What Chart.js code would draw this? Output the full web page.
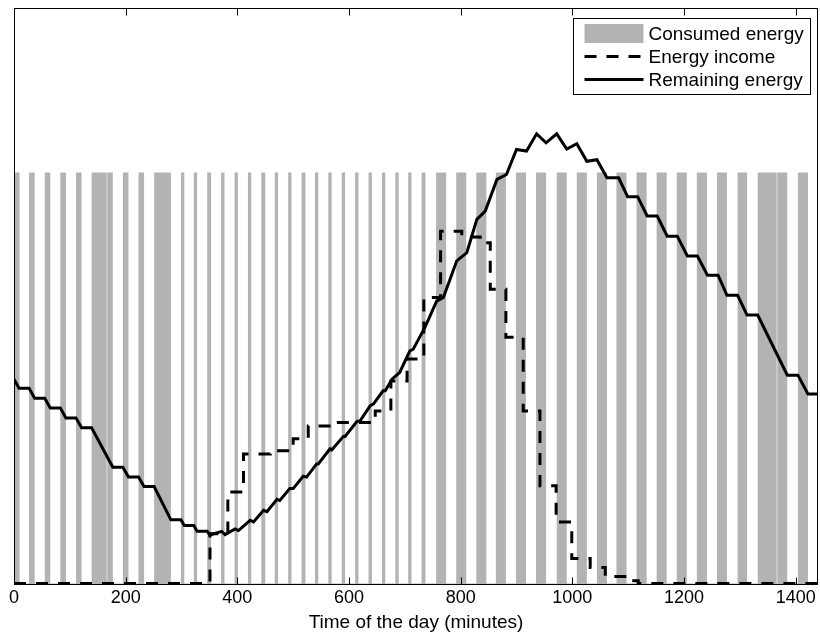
<!DOCTYPE html>
<html>
<head>
<meta charset="utf-8">
<script src="https://cdn.jsdelivr.net/npm/chart.js@4.4.0/dist/chart.umd.min.js"></script>
<style>
html,body{margin:0;padding:0;background:#ffffff;}
#wrap{width:820px;height:634px;}
</style>
</head>
<body>
<div id="wrap"><canvas id="c" width="820" height="634"></canvas></div>
<script>
// ---------- data (minutes of the day / energy units) ----------
const xTicks = [0, 200, 400, 600, 800, 1000, 1200, 1400];

// consumed energy: intervals (start, end) in minutes, height 1
const barStart = [0, 27, 55, 83, 111, 139, 167, 195, 223, 251, 299, 322, 346, 371, 395, 419, 443, 467, 491, 515, 539, 563, 587, 611, 635, 659, 683, 706, 730, 756, 792, 828, 863, 899, 935, 972, 1008, 1044, 1079, 1115, 1151, 1187, 1223, 1259, 1296, 1332, 1367, 1404];
const barEnd   = [10, 37, 65, 93, 121, 166, 177, 205, 233, 281, 305, 328, 353, 377, 401, 425, 450, 473, 497, 522, 545, 569, 593, 617, 641, 665, 689, 712, 737, 774, 810, 846, 881, 917, 953, 990, 1026, 1062, 1097, 1133, 1169, 1205, 1241, 1277, 1313, 1366, 1385, 1422];
const barLevel = 1;

// energy income (step function, value holds until next time)
const incomeTime  = [0, 351, 383, 411, 459, 500, 527, 578, 647, 675, 704, 734, 764, 802, 835, 853, 881, 912, 942, 971, 999, 1032, 1059, 1094, 1118, 1440];
const incomeValue = [0, 0.121, 0.223, 0.315, 0.323, 0.352, 0.383, 0.392, 0.420, 0.493, 0.546, 0.696, 0.857, 0.843, 0.829, 0.716, 0.599, 0.420, 0.238, 0.150, 0.061, 0.039, 0.017, 0.007, 0, 0];

// remaining energy
const remainTime  = [0, 9, 27, 37, 55, 65, 83, 93, 111, 121, 139, 177, 195, 205, 223, 233, 251, 281, 299, 305, 322, 328, 346, 351, 372, 378, 396, 402, 423, 429, 447, 453, 471, 476, 494, 500, 518, 524, 542, 545, 566, 569, 590, 593, 614, 620, 638, 644, 661, 665, 677, 691, 709, 715, 736, 757, 769, 781, 793, 811, 829, 844, 865, 882, 900, 918, 936, 953, 972, 990, 1008, 1026, 1044, 1062, 1083, 1099, 1117, 1134, 1152, 1170, 1188, 1206, 1224, 1242, 1261, 1277, 1296, 1313, 1332, 1385, 1404, 1422, 1440];
const remainValue = [0.497, 0.475, 0.475, 0.451, 0.451, 0.427, 0.427, 0.403, 0.403, 0.379, 0.379, 0.283, 0.283, 0.259, 0.259, 0.236, 0.236, 0.155, 0.155, 0.141, 0.141, 0.127, 0.127, 0.118, 0.127, 0.119, 0.133, 0.129, 0.154, 0.150, 0.178, 0.175, 0.205, 0.202, 0.231, 0.231, 0.261, 0.259, 0.291, 0.291, 0.328, 0.325, 0.358, 0.358, 0.394, 0.396, 0.433, 0.437, 0.469, 0.469, 0.497, 0.514, 0.566, 0.570, 0.623, 0.687, 0.696, 0.740, 0.785, 0.805, 0.886, 0.906, 0.983, 0.995, 1.056, 1.052, 1.094, 1.072, 1.094, 1.057, 1.070, 1.027, 1.031, 0.987, 0.987, 0.941, 0.941, 0.894, 0.894, 0.845, 0.845, 0.797, 0.797, 0.750, 0.750, 0.701, 0.701, 0.653, 0.653, 0.507, 0.507, 0.461, 0.461];

// ---------- build datasets ----------
const barPoints = [];
barStart.forEach((s, i) => {
  const e = barEnd[i];
  barPoints.push({x: s, y: 0}, {x: s, y: barLevel}, {x: e, y: barLevel}, {x: e, y: 0});
});
const incomePoints = incomeTime.map((t, i) => ({x: t, y: incomeValue[i]}));
const remainPoints = remainTime.map((t, i) => ({x: t, y: remainValue[i]}));

const FONT = '"Liberation Sans", Arial, Helvetica, sans-serif';

const framePlugin = {
  id: 'frameAndLegend',
  afterDraw(chart) {
    const {ctx, chartArea: a, scales} = chart;
    const xs = scales.x;
    ctx.save();
    ctx.strokeStyle = '#000';
    ctx.lineWidth = 1;
    const L = Math.round(a.left) + 0.5, T = Math.round(a.top) + 0.5;
    const R = Math.round(a.right) - 0.5, B = Math.round(a.bottom) - 0.5;
    ctx.strokeRect(L, T, R - L, B - T);
    ctx.beginPath();
    xs.ticks.forEach(t => {
      const px = Math.round(xs.getPixelForValue(t.value)) + 0.5;
      ctx.moveTo(px, B); ctx.lineTo(px, B - 7);
      ctx.moveTo(px, T); ctx.lineTo(px, T + 7);
    });
    ctx.stroke();

    // legend box inside the plot (top right)
    const ds = chart.data.datasets;
    const order = [2, 1, 0];
    const bw = 237, bh = 76;
    const bx = Math.round(a.right) - 8 - bw + 0.5;
    const by = Math.round(a.top) + 10 + 0.5;
    ctx.fillStyle = '#fff';
    ctx.fillRect(bx, by, bw, bh);
    ctx.strokeStyle = '#000';
    ctx.lineWidth = 1;
    ctx.strokeRect(bx, by, bw, bh);
    ctx.font = '19px ' + FONT;
    ctx.textBaseline = 'middle';
    ctx.textAlign = 'left';
    const sx0 = bx + 11, sx1 = bx + 70, tx = bx + 75;
    order.forEach((di, k) => {
      const d = ds[di];
      const cy = by + 15 + k * 23;
      if (d.fill) {
        ctx.fillStyle = d.backgroundColor;
        ctx.fillRect(sx0, cy - 9.5, sx1 - sx0, 19);
      } else {
        ctx.beginPath();
        ctx.setLineDash(d.borderDash || []);
        ctx.lineWidth = d.borderWidth;
        ctx.strokeStyle = d.borderColor;
        ctx.moveTo(sx0, cy); ctx.lineTo(sx1, cy);
        ctx.stroke();
        ctx.setLineDash([]);
      }
      ctx.fillStyle = '#000';
      ctx.fillText(d.label, tx, cy + 1);
    });
    ctx.restore();
  }
};

new Chart(document.getElementById('c'), {
  type: 'line',
  data: {
    datasets: [
      {
        label: 'Remaining energy',
        data: remainPoints,
        borderColor: '#000',
        borderWidth: 3,
        pointRadius: 0,
        fill: false,
        tension: 0,
        order: 1
      },
      {
        label: 'Energy income',
        data: incomePoints,
        borderColor: '#000',
        borderWidth: 3,
        borderDash: [12, 10],
        stepped: true,
        pointRadius: 0,
        fill: false,
        order: 2
      },
      {
        label: 'Consumed energy',
        data: barPoints,
        borderWidth: 0,
        borderColor: 'rgba(0,0,0,0)',
        backgroundColor: '#b3b3b3',
        pointRadius: 0,
        fill: 'start',
        tension: 0,
        order: 3
      }
    ]
  },
  options: {
    responsive: false,
    devicePixelRatio: 1,
    animation: false,
    layout: {padding: {left: 14, right: 2, top: 8, bottom: 0}},
    plugins: {legend: {display: false}, tooltip: {enabled: false}},
    scales: {
      x: {
        type: 'linear',
        min: 0,
        max: 1440,
        grid: {display: false, drawTicks: false},
        border: {display: false},
        afterBuildTicks(s) { s.ticks = xTicks.map(v => ({value: v})); },
        ticks: {
          autoSkip: false,
          maxRotation: 0,
          padding: 2,
          color: '#000',
          font: {family: FONT, size: 18},
          callback: v => String(v)
        },
        title: {
          display: true,
          text: 'Time of the day (minutes)',
          color: '#000',
          font: {family: FONT, size: 19},
          padding: {top: 0, bottom: 0}
        },
        afterFit(s) { s.height = 49; }
      },
      y: {
        type: 'linear',
        min: -0.0035,
        max: 1.4,
        display: false
      }
    }
  },
  plugins: [framePlugin]
});
</script>
</body>
</html>
